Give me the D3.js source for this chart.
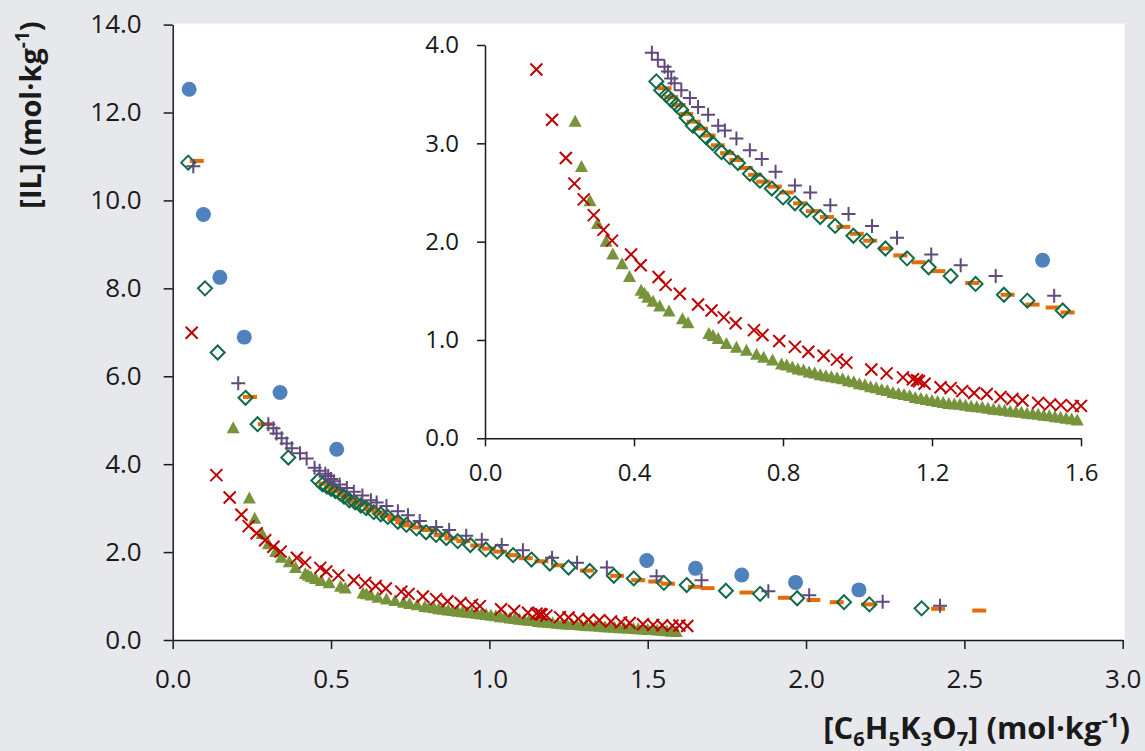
<!DOCTYPE html>
<html><head><meta charset="utf-8">
<script src="https://cdn.jsdelivr.net/npm/d3@7"></script>
<style>
body{margin:0;background:#e7e8ec;}
svg{display:block;font-family:"Open Sans",sans-serif;}
</style>
</head><body>
<svg id="chart" width="1145" height="751"></svg>
<script>
// ---- data ----
const circleX = [0.052,0.097,0.149,0.226,0.339,0.518,1.497,1.651,1.797,1.967,2.167];
const circleY = [12.53,9.68,8.25,6.89,5.63,4.34,1.81,1.63,1.48,1.31,1.14];

const diamondX = [0.049,0.102,0.142,0.23,0.268,0.365,0.46,0.473,0.487,0.50,0.514,0.527,0.541,0.558,0.576,0.594,0.611,0.635,0.657,0.679,0.711,0.738,0.77,0.80,0.832,0.864,0.90,0.94,0.989,1.025,1.075,1.133,1.191,1.25,1.317,1.393,1.456,1.551,1.623,1.747,1.855,1.972,2.12,2.20,2.365];
const diamondY = [10.86,8.00,6.54,5.51,4.91,4.15,3.63,3.54,3.49,3.44,3.39,3.34,3.26,3.18,3.13,3.06,3.00,2.91,2.86,2.80,2.69,2.62,2.54,2.45,2.39,2.32,2.25,2.16,2.06,2.01,1.93,1.83,1.74,1.65,1.57,1.46,1.40,1.30,1.25,1.12,1.05,0.95,0.86,0.81,0.72];

const dashX = [0.076,0.244,0.291,0.482,0.50,0.52,0.54,0.56,0.58,0.60,0.625,0.65,0.675,0.70,0.725,0.747,0.778,0.81,0.846,0.88,0.918,0.962,0.998,1.034,1.075,1.115,1.164,1.217,1.308,1.403,1.47,1.524,1.564,1.649,1.689,1.812,1.933,2.023,2.097,2.196,2.417,2.547];
const dashY = [10.90,5.53,4.91,3.56,3.47,3.39,3.30,3.22,3.15,3.08,2.98,2.90,2.83,2.75,2.68,2.61,2.56,2.50,2.39,2.31,2.25,2.15,2.08,2.01,1.93,1.86,1.79,1.70,1.58,1.46,1.36,1.33,1.28,1.21,1.18,1.08,0.96,0.91,0.86,0.81,0.71,0.67];

const plusX = [0.065,0.207,0.302,0.318,0.328,0.344,0.36,0.376,0.402,0.423,0.448,0.464,0.482,0.491,0.50,0.509,0.527,0.55,0.572,0.599,0.626,0.644,0.675,0.711,0.743,0.78,0.832,0.873,0.927,0.976,1.039,1.106,1.198,1.277,1.371,1.528,1.67,1.881,2.01,2.242,2.423];
const plusY = [10.78,5.84,4.91,4.82,4.70,4.59,4.47,4.36,4.25,4.13,3.92,3.85,3.78,3.73,3.66,3.61,3.54,3.46,3.37,3.29,3.18,3.13,3.05,2.93,2.84,2.71,2.57,2.50,2.37,2.28,2.16,2.04,1.87,1.76,1.65,1.45,1.36,1.11,1.02,0.87,0.78];

const crossX = [0.06,0.138,0.18,0.217,0.24,0.265,0.292,0.318,0.341,0.392,0.418,0.466,0.485,0.523,0.572,0.608,0.641,0.673,0.722,0.745,0.79,0.832,0.868,0.909,0.945,0.97,1.037,1.078,1.122,1.149,1.16,1.165,1.18,1.223,1.25,1.281,1.313,1.347,1.384,1.416,1.443,1.485,1.517,1.546,1.578,1.60,1.625];
const crossY = [6.99,3.75,3.24,2.85,2.59,2.43,2.27,2.12,2.01,1.87,1.76,1.64,1.56,1.47,1.36,1.30,1.23,1.17,1.10,1.05,0.99,0.93,0.88,0.84,0.80,0.77,0.70,0.66,0.62,0.60,0.59,0.58,0.555,0.52,0.51,0.48,0.46,0.45,0.42,0.40,0.385,0.36,0.345,0.337,0.327,0.33,0.32];

const triX = [0.191,0.242,0.259,0.282,0.302,0.325,0.343,0.368,0.388,0.419,0.428,0.437,0.451,0.469,0.494,0.53,0.545,0.601,0.612,0.626,0.648,0.675,0.702,0.729,0.748,0.772,0.796,0.81,0.825,0.84,0.855,0.87,0.885,0.90,0.915,0.93,0.945,0.96,0.975,0.99,1.005,1.02,1.035,1.05,1.065,1.08,1.095,1.11,1.125,1.14,1.155,1.17,1.185,1.20,1.215,1.23,1.245,1.26,1.275,1.29,1.305,1.32,1.335,1.35,1.365,1.38,1.395,1.41,1.425,1.44,1.455,1.47,1.485,1.50,1.515,1.53,1.545,1.56,1.575,1.59];
const triY = [4.82,3.22,2.76,2.41,2.18,2.00,1.87,1.77,1.64,1.50,1.47,1.43,1.39,1.34,1.29,1.21,1.17,1.06,1.04,1.01,0.96,0.92,0.89,0.85,0.82,0.79,0.75,0.74,0.72,0.70,0.69,0.67,0.66,0.64,0.63,0.62,0.61,0.60,0.58,0.57,0.55,0.54,0.52,0.51,0.49,0.48,0.46,0.45,0.44,0.43,0.41,0.40,0.39,0.38,0.37,0.36,0.35,0.345,0.34,0.33,0.32,0.315,0.31,0.30,0.29,0.285,0.28,0.27,0.265,0.26,0.25,0.245,0.24,0.23,0.225,0.215,0.21,0.20,0.19,0.18];

const mainXTicks = [0,0.5,1.0,1.5,2.0,2.5,3.0];
const mainYTicks = [0,2,4,6,8,10,12,14];
const insetXTicks = [0,0.4,0.8,1.2,1.6];
const insetYTicks = [0,1,2,3,4];

// ---- drawing ----
const svg = d3.select("#chart");
const zip = (xs, ys) => xs.map((x, i) => ({x, y: ys[i]}));

const series = [
  {data: zip(triX, triY), kind: "tri", color: "#77933c"},
  {data: zip(crossX, crossY), kind: "cross", color: "#c00000"},
  {data: zip(dashX, dashY), kind: "dash", color: "#e46c0a"},
  {data: zip(diamondX, diamondY), kind: "diamond", color: "#0f6b45"},
  {data: zip(plusX, plusY), kind: "plus", color: "#604a7b"},
  {data: zip(circleX, circleY), kind: "circle", color: "#4f81bd"}
];

function drawMarkers(g, sx, sy, filterFn) {
  series.forEach(s => {
    const pts = s.data.filter(filterFn);
    const sel = g.append("g").selectAll("path").data(pts).join("path")
      .attr("transform", d => `translate(${sx(d.x)},${sy(d.y)})`);
    if (s.kind === "circle") {
      sel.attr("d", d3.symbol(d3.symbolCircle, 176)()).attr("fill", s.color);
    } else if (s.kind === "diamond") {
      sel.attr("d", "M0,-7L7,0L0,7L-7,0Z").attr("fill", "none").attr("stroke", s.color).attr("stroke-width", 2);
    } else if (s.kind === "tri") {
      sel.attr("d", "M0,-7L6.5,5L-6.5,5Z").attr("fill", s.color);
    } else if (s.kind === "cross") {
      sel.attr("d", "M-6,-6L6,6M-6,6L6,-6").attr("fill", "none").attr("stroke", s.color).attr("stroke-width", 2);
    } else if (s.kind === "plus") {
      sel.attr("d", "M-7,0L7,0M0,-7L0,7").attr("fill", "none").attr("stroke", s.color).attr("stroke-width", 2);
    } else if (s.kind === "dash") {
      sel.attr("d", "M-7,-2H7V2H-7Z").attr("fill", s.color);
    }
  });
}

// main chart
const mx = d3.scaleLinear().domain([0, 3]).range([172.7, 1122.7]);
const my = d3.scaleLinear().domain([0, 14]).range([640, 24.6]);

svg.append("rect").attr("x", mx(0)).attr("y", my(14) - 1).attr("width", mx(3) - mx(0) + 2).attr("height", my(0) - my(14) + 1).attr("fill", "#ffffff");

drawMarkers(svg.append("g"), mx, my, d => true);

const fmt = d3.format(".1f");
const gxa = svg.append("g").attr("transform", `translate(0,${my(0)})`)
  .call(d3.axisBottom(mx).tickValues(mainXTicks).tickFormat(fmt).tickSize(9).tickSizeOuter(0).tickPadding(21));
const gya = svg.append("g").attr("transform", `translate(${mx(0)},0)`)
  .call(d3.axisLeft(my).tickValues(mainYTicks).tickFormat(fmt).tickSize(9).tickSizeOuter(0).tickPadding(22));
[gxa, gya].forEach(g => {
  g.selectAll("path,line").attr("stroke", "#1a1a1a").attr("stroke-width", 1.5);
  g.selectAll("text").attr("font-size", 26).attr("fill", "#1a1a1a").attr("font-family", "Open Sans");
});

// inset chart
const ix = d3.scaleLinear().domain([0, 1.6]).range([485, 1081]);
const iy = d3.scaleLinear().domain([0, 4]).range([438.3, 45]);
const inset = svg.append("g");
inset.append("rect").attr("x", 410).attr("y", 32).attr("width", 700).attr("height", 462).attr("fill", "#ffffff");
drawMarkers(inset.append("g"), ix, iy, d => d.x >= 0 && d.x <= 1.6 && d.y >= 0 && d.y <= 4);
const ixa = inset.append("g").attr("transform", `translate(0,${iy(0)})`)
  .call(d3.axisBottom(ix).tickValues(insetXTicks).tickFormat(fmt).tickSize(8).tickSizeOuter(0).tickPadding(18));
const iya = inset.append("g").attr("transform", `translate(${ix(0)},0)`)
  .call(d3.axisLeft(iy).tickValues(insetYTicks).tickFormat(fmt).tickSize(8).tickSizeOuter(0).tickPadding(18));
[ixa, iya].forEach(g => {
  g.selectAll("path,line").attr("stroke", "#1a1a1a").attr("stroke-width", 1.5);
  g.selectAll("text").attr("font-size", 24).attr("fill", "#1a1a1a").attr("font-family", "Open Sans");
});

// axis titles
const xt = svg.append("text").attr("x", 1130).attr("y", 739).attr("text-anchor", "end")
  .attr("font-size", 31).attr("font-weight", "bold").attr("fill", "#1a1a1a");
const xparts = [["[C",0],["6",1],["H",0],["5",1],["K",0],["3",1],["O",0],["7",1],["] (mol·kg",0],["-1",2],[")",0]];
let prev = 0;
xparts.forEach(([t, k]) => {
  const target = k === 1 ? 7 : (k === 2 ? -12 : 0);
  xt.append("tspan").attr("dy", target - prev).attr("font-size", k ? 20 : 31).text(t);
  prev = target;
});

const yt = svg.append("text").attr("transform", "translate(41,115) rotate(-90)").attr("text-anchor", "middle")
  .attr("font-size", 29).attr("font-weight", "bold").attr("fill", "#1a1a1a");
yt.append("tspan").text("[IL] (mol·kg");
yt.append("tspan").attr("dy", -12).attr("font-size", 19).text("-1");
yt.append("tspan").attr("dy", 12).text(")");
</script>
</body></html>
